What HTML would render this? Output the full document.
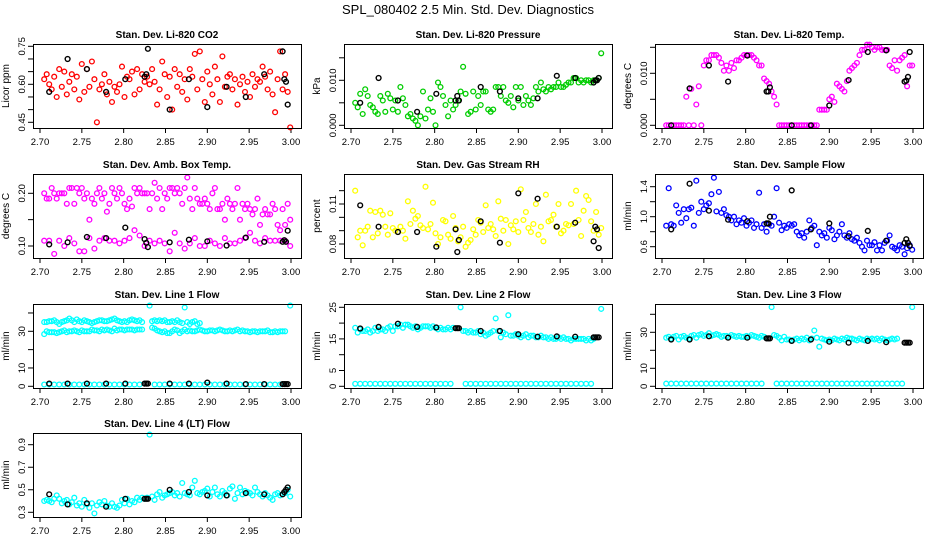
<!DOCTYPE html>
<html><head><meta charset="utf-8"><style>
html,body{margin:0;padding:0;background:#fff;}
svg{display:block;font-family:"Liberation Sans",Arial,sans-serif;}
</style></head><body>
<svg id="chart" width="936" height="540" viewBox="0 0 936 540" xmlns="http://www.w3.org/2000/svg">
<rect width="936" height="540" fill="#fff"/>
<text x="468" y="14" text-anchor="middle" font-size="13">SPL_080402  2.5 Min. Std. Dev. Diagnostics</text>
</svg>
<script>
const times = [2.705,2.708,2.711,2.714,2.717,2.720,2.723,2.726,2.729,2.732,2.735,2.738,2.741,2.744,2.747,2.750,2.753,2.756,2.759,2.762,2.765,2.768,2.771,2.774,2.777,2.780,2.783,2.786,2.789,2.792,2.795,2.798,2.801,2.804,2.807,2.810,2.813,2.816,2.819,2.822,2.825,2.828,2.831,2.834,2.837,2.840,2.843,2.846,2.849,2.852,2.855,2.858,2.861,2.864,2.867,2.870,2.873,2.876,2.879,2.882,2.885,2.888,2.891,2.894,2.897,2.900,2.903,2.906,2.909,2.912,2.915,2.918,2.921,2.924,2.927,2.930,2.933,2.936,2.939,2.942,2.945,2.948,2.951,2.954,2.957,2.960,2.963,2.966,2.969,2.972,2.975,2.978,2.981,2.984,2.987,2.990,2.993,2.996,2.999];
const timesHalf = [2.705,2.711,2.717,2.723,2.729,2.735,2.741,2.747,2.753,2.759,2.765,2.771,2.777,2.783,2.789,2.795,2.801,2.807,2.813,2.819,2.825,2.831,2.837,2.843,2.849,2.855,2.861,2.867,2.873,2.879,2.885,2.891,2.897,2.903,2.909,2.915,2.921,2.927,2.933,2.939,2.945,2.951,2.957,2.963,2.969,2.975,2.981,2.987,2.993,2.999];
const calTimes = [2.711,2.733,2.756,2.779,2.802,2.825,2.827,2.829,2.855,2.878,2.900,2.923,2.946,2.968,2.990,2.992,2.994,2.996];
const xTicks = [2.70,2.75,2.80,2.85,2.90,2.95,3.00];
const xTickLabels = ["2.70","2.75","2.80","2.85","2.90","2.95","3.00"];

const co2Vals = [0.62,0.64,0.60,0.58,0.63,0.55,0.66,0.59,0.65,0.56,0.61,0.64,0.58,0.63,0.54,0.68,0.57,0.66,0.59,0.69,0.62,0.45,0.58,0.60,0.64,0.56,0.61,0.53,0.59,0.57,0.60,0.67,0.55,0.63,0.62,0.65,0.56,0.66,0.58,0.64,0.61,0.63,0.60,0.66,0.61,0.52,0.58,0.69,0.64,0.55,0.63,0.50,0.66,0.59,0.64,0.57,0.62,0.54,0.66,0.63,0.72,0.58,0.73,0.62,0.53,0.65,0.60,0.56,0.67,0.62,0.53,0.71,0.59,0.63,0.64,0.58,0.62,0.52,0.60,0.63,0.57,0.61,0.55,0.64,0.59,0.62,0.61,0.67,0.63,0.58,0.65,0.56,0.49,0.62,0.73,0.58,0.64,0.57,0.43];
const co2Cal = [0.57,0.70,0.66,0.57,0.62,0.63,0.64,0.74,0.50,0.62,0.51,0.59,0.55,0.64,0.73,0.62,0.61,0.52];
const presVals = [0.005,0.004,0.007,0.0025,0.008,0.0065,0.0045,0.004,0.003,0.0025,0.0065,0.0055,0.003,0.007,0.006,0.0035,0.0055,0.003,0.0085,0.006,0.0045,0.002,0.0025,0.0015,0.001,0.0,0.002,0.0075,0.0015,0.0035,0.006,0.003,0.0,0.0095,0.0085,0.0065,0.0045,0.002,0.0055,0.0035,0.0045,0.0055,0.0075,0.013,0.007,0.0025,0.003,0.0075,0.0035,0.0065,0.0045,0.0075,0.0075,0.0035,0.003,0.0035,0.0085,0.0085,0.0065,0.0085,0.0055,0.005,0.0065,0.004,0.0085,0.0055,0.0085,0.0045,0.0065,0.0055,0.0045,0.006,0.0085,0.0075,0.0095,0.008,0.0075,0.0085,0.008,0.0085,0.0085,0.0095,0.0085,0.0085,0.009,0.0095,0.0095,0.0105,0.0105,0.0095,0.01,0.0095,0.01,0.01,0.0095,0.01,0.01,0.0105,0.016];
const presCal = [0.005,0.0105,0.0055,0.003,0.007,0.0055,0.0065,0.0055,0.0085,0.0075,0.006,0.006,0.011,0.0105,0.0095,0.01,0.01,0.0105];
const tempVals = [0,0,0,0,0,0,0,0,0.0055,0,0.007,0,0.004,0.0075,0,0.0115,0.0125,0.0125,0.0135,0.0135,0.0135,0.013,0.012,0.0105,0.0115,0.0105,0.012,0.011,0.0125,0.0125,0.013,0.0135,0.0135,0.0135,0.0135,0.013,0.0125,0.0115,0.0115,0.009,0.0085,0.008,0.0065,0.0055,0.004,0,0,0,0,0,0,0,0,0,0,0,0,0,0,0,0,0.003,0.003,0.003,0.003,0.005,0.0055,0.0045,0.008,0.0075,0.007,0.0065,0.0085,0.0105,0.011,0.0115,0.012,0.0135,0.0145,0.0145,0.0155,0.0155,0.015,0.0145,0.015,0.015,0.0145,0.0145,0.0145,0.0115,0.011,0.0125,0.0105,0.0125,0.013,0.0135,0.0075,0.0115,0.0115];
const tempCal = [0,0.0071,0.0115,0.0084,0.0134,0.0065,0.0065,0.0073,0,0,0.0038,0.0087,0.0141,0.0144,0.0084,0.0086,0.0093,0.0141];
const ambUpper = [0.20,0.19,0.19,0.21,0.20,0.19,0.20,0.20,0.20,0.18,0.21,0.21,0.18,0.21,0.20,0.21,0.19,0.20,0.15,0.19,0.18,0.20,0.21,0.19,0.20,0.165,0.18,0.21,0.20,0.19,0.21,0.20,0.18,0.17,0.19,0.175,0.21,0.20,0.21,0.20,0.20,0.20,0.17,0.20,0.22,0.19,0.21,0.17,0.20,0.19,0.21,0.21,0.20,0.21,0.20,0.18,0.21,0.23,0.19,0.17,0.21,0.19,0.18,0.18,0.19,0.18,0.17,0.20,0.21,0.17,0.17,0.18,0.15,0.19,0.18,0.17,0.18,0.21,0.15,0.18,0.17,0.18,0.17,0.16,0.17,0.19,0.14,0.16,0.17,0.16,0.16,0.18,0.17,0.14,0.13,0.17,0.14,0.18,0.15];
const ambLower = [0.11,0.11,0.085,0.11,0.10,0.115,0.105,0.09,0.09,0.115,0.095,0.11,0.115,0.11,0.11,0.105,0.11,0.115,0.13,0.12,0.10,0.11,0.105,0.11,0.105,0.09,0.125,0.105,0.095,0.105,0.115,0.10,0.10,0.11,0.105,0.10,0.115,0.105,0.105,0.11,0.115,0.125,0.11,0.105,0.115,0.11,0.11,0.11,0.11,0.10];
const ambCal = [0.103,0.107,0.117,0.115,0.135,0.113,0.106,0.098,0.107,0.112,0.109,0.101,0.116,0.108,0.108,0.111,0.108,0.129];
const rhVals = [0.12,0.085,0.09,0.079,0.09,0.093,0.105,0.085,0.104,0.088,0.105,0.102,0.093,0.087,0.103,0.092,0.09,0.089,0.093,0.09,0.084,0.112,0.095,0.105,0.099,0.101,0.094,0.092,0.123,0.091,0.095,0.111,0.088,0.08,0.085,0.098,0.097,0.087,0.084,0.101,0.092,0.082,0.085,0.093,0.078,0.081,0.083,0.091,0.087,0.098,0.096,0.089,0.109,0.092,0.095,0.091,0.086,0.112,0.099,0.09,0.098,0.08,0.094,0.091,0.097,0.089,0.121,0.098,0.104,0.092,0.089,0.095,0.11,0.087,0.093,0.082,0.117,0.097,0.098,0.102,0.093,0.11,0.088,0.09,0.095,0.094,0.11,0.095,0.12,0.098,0.086,0.105,0.116,0.113,0.097,0.09,0.104,0.087,0.092];
const rhCal = [0.109,0.093,0.089,0.089,0.078,0.091,0.074,0.083,0.097,0.081,0.118,0.114,0.093,0.096,0.082,0.093,0.091,0.077];
const flowVals = [0.88,1.38,0.9,0.88,1.15,1.05,0.92,1.1,0.98,1.1,1.12,0.88,1.48,1.05,1.2,1.1,1.15,1.18,1.3,1.52,1.07,1.33,1.05,1.1,1.02,1.0,0.95,1.0,0.9,0.95,0.92,0.98,0.88,0.92,0.95,0.85,0.9,1.32,0.85,0.9,0.8,0.9,0.88,1.0,1.38,0.92,0.82,0.88,0.85,0.9,0.88,0.9,0.8,0.75,0.78,0.72,0.8,0.95,0.85,0.88,0.62,0.8,0.75,0.78,0.72,0.85,0.82,0.7,0.75,0.8,0.9,0.75,0.72,0.78,0.7,0.68,0.72,0.65,0.6,0.55,0.68,0.62,0.62,0.66,0.55,0.62,0.55,0.65,0.68,0.75,0.6,0.58,0.55,0.62,0.6,0.5,0.58,0.62,0.56];
const flowCal = [0.83,1.44,1.08,0.96,0.94,0.91,0.91,1.0,1.35,0.83,0.91,0.74,0.81,0.68,0.65,0.7,0.65,0.61];
const line1A = [35,35,35.5,35.5,36,35,34,35,35.5,36,37,36,35,36.5,35.5,35,36,35.5,35,34.5,35,35.5,36,36,35.5,35.5,36,36.5,37,36,35.5,35,35.5,35,36,36.5,36,35.5,36,35,null,null,null,35.5,36,35.5,36,35.5,36,35,35,35.5,35,36,35,34.5,43,35,34,35,35.5,34,34.5];
const line1B = [28.5,30,29.5,29.5,29.5,29,29.5,30,30.5,29.5,30,30,30.5,30,29.5,30.5,30,30,30,31,30.5,30.5,30,31,30.5,31,30.5,30,31.5,30.5,31,31,30.5,31,31,31,30.5,31,31,31,null,null,44,32,31.5,30.5,30,29.5,30,29,29,30,31,30.5,29,30,31,30,30.5,30,30,30.5,31,30.5,30,30,30.5,30.5,30,30.5,31,30.5,30,30,30.5,30,30.5,31,30,30.5,30,30,29.5,30,30,29.5,30,30,30,30.5,29.5,29.5,30,29.5,30,30,30,null,44];
const line1Low = [1,1,1,1,1,1,1,1,1,1,1,1,1,1,1,1,1,1,1,1,null,null,1,1,1,1,1,1,1,1,1,1,1,1,1,1,1,1,1,1,1,1,1,1,1,1,1,1,null,null];
const line1Cal = [1.5,1.5,1.5,1.5,1.5,1.5,1.5,1.5,1.5,1.5,2,1.5,1.2,1.2,1.2,1.2,1.2,1.2];
const line2Vals = [18.5,17,18,17.5,17.5,18,17,17.5,18.5,17.5,18,18,17.5,18.5,19,17.5,19,19,19.5,18.5,19.5,19.5,19,18.5,19,18,18.5,19,19,19,18.5,19,18.5,18,18.5,18,18,18.5,18,18.5,null,null,25,17.5,17.5,17,17.5,17,17,17.5,16.5,17,16,16.5,17,17.5,21.5,17.5,15.5,17,16.5,22.5,16,16,16.5,16,15.5,16,16.5,15.5,16,16,15.5,15.5,16,15.5,15.5,15,15.5,15,15,15.5,15,15.5,15,15,14.5,15,15,15,15,15,14.5,15,14.5,15,null,null,24.5];
const line2Low = [0.8,0.8,0.8,0.8,0.8,0.8,0.8,0.8,0.8,0.8,0.8,0.8,0.8,0.8,0.8,0.8,0.8,0.8,0.8,0.8,null,null,0.8,0.8,0.8,0.8,0.8,0.8,0.8,0.8,0.8,0.8,0.8,0.8,0.8,0.8,0.8,0.8,0.8,0.8,0.8,0.8,0.8,0.8,0.8,0.8,0.8,0.8,null,null];
const line2Cal = [18.3,18.8,19.8,18.8,18.6,18.4,18.4,18.4,17.5,17.5,16.5,15.7,15.8,15.7,15.5,15.5,15.5,15.5];
const line3Vals = [27,27.5,26.5,27.5,28,26,27.5,28,27,26.5,28,28.5,27,28.5,29,28,28.5,29.5,28,28.5,29,28.5,27.5,28,28,27.5,28.5,28,27.5,28,27.5,27.5,28,27.5,28.5,28,27.5,27,28,27.5,null,null,44,28.5,28,27,25.5,27.5,26,26,25.5,26,26.5,25.5,26.5,26,27,25.5,26.5,31,27,22,26.5,26,25.5,26,25.5,26.5,26,25.5,26.5,26,27,26.5,26.5,26,25.5,26.5,26,25.5,26.5,26,26.5,26,26.5,25.5,26.5,26,25.5,26,26.5,26,26.5,null,null,null,null,null,44];
const line3Low = [1.5,1.5,1.5,1.5,1.5,1.5,1.5,1.5,1.5,1.5,1.5,1.5,1.5,1.5,1.5,1.5,1.5,1.5,1.5,1.5,null,null,1.5,1.5,1.5,1.5,1.5,1.5,1.5,1.5,1.5,1.5,1.5,1.5,1.5,1.5,1.5,1.5,1.5,1.5,1.5,1.5,1.5,1.5,1.5,1.5,1.5,1.5,null,null];
const line3Cal = [26,26,27.8,27,27,26.6,26.6,26.6,25.2,26,24.8,24.2,25.2,24.5,24.2,24.2,24.2,24.2];
const line4Vals = [0.40,0.41,0.40,0.39,0.42,0.45,0.42,0.38,0.40,0.41,0.37,0.39,0.43,0.36,0.38,0.35,0.41,0.37,0.34,0.38,0.29,0.36,0.39,0.37,0.40,0.36,0.35,0.38,0.35,0.34,0.36,0.41,0.38,0.42,0.37,0.40,0.39,0.43,0.41,0.43,0.42,0.43,0.99,0.44,0.41,0.46,0.48,0.43,0.45,0.46,0.47,0.48,0.45,0.47,0.44,0.56,0.47,0.46,0.45,0.52,0.58,0.47,0.46,0.48,0.49,0.51,0.44,0.48,0.52,0.46,0.44,0.49,0.47,0.45,0.51,0.53,0.42,0.47,0.52,0.46,0.49,0.48,0.47,0.45,0.52,0.48,0.46,0.44,0.47,0.45,0.43,0.41,0.46,0.47,0.45,0.46,0.47,0.50,0.44];
const line4Cal = [0.46,0.37,0.38,0.35,0.42,0.42,0.42,0.42,0.50,0.48,0.45,0.45,0.47,0.46,0.46,0.48,0.50,0.52];

const NS = "http://www.w3.org/2000/svg";
const svg = document.getElementById('chart');
const colLeft = [33, 344, 655], rowTop = [44, 174, 304, 433], PW = 268, PH = 84;

function mk(tag, attrs, parent) {
  const e = document.createElementNS(NS, tag);
  for (const k in attrs) e.setAttribute(k, attrs[k]);
  (parent || svg).appendChild(e);
  return e;
}

const panels = [
  {key:'co2', title:'Stan. Dev. Li-820 CO2', ylab:'Licor ppm', color:'#ff0000', r:0, c:0, cal:[0.45,78.3,0.75,2.3], ticks:[0.45,0.5,0.55,0.6,0.65,0.7,0.75], labels:{0.45:'0.45',0.6:'0.60',0.75:'0.75'},
   series:[[times, co2Vals]], calVals: co2Cal},
  {key:'pressure', title:'Stan. Dev. Li-820 Pressure', ylab:'kPa', color:'#00cd00', r:0, c:1, cal:[0,81.3,0.01,36.3], ticks:[0,0.005,0.01,0.015], labels:{0:'0.000',0.01:'0.010'},
   series:[[times, presVals]], calVals: presCal},
  {key:'temp', title:'Stan. Dev. Li-820 Temp.', ylab:'degrees C', color:'#ff00ff', r:0, c:2, cal:[0,81.3,0.01,29.3], ticks:[0,0.005,0.01,0.015], labels:{0:'0.000',0.01:'0.010'},
   series:[[times, tempVals]], calVals: tempCal},
  {key:'amb-temp', title:'Stan. Dev. Amb. Box Temp.', ylab:'degrees C', color:'#ff00ff', r:1, c:0, cal:[0.1,72,0.2,19.3], ticks:[0.1,0.15,0.2], labels:{0.1:'0.10',0.2:'0.20'},
   series:[[times, ambUpper],[timesHalf, ambLower]], calVals: ambCal},
  {key:'rh', title:'Stan. Dev. Gas Stream RH', ylab:'percent', color:'#ffff00', r:1, c:1, cal:[0.08,70,0.11,30], ticks:[0.08,0.09,0.1,0.11,0.12], labels:{0.08:'0.08',0.11:'0.11'},
   series:[[times, rhVals]], calVals: rhCal},
  {key:'sample-flow', title:'Stan. Dev. Sample Flow', ylab:'ml/min', color:'#0000ff', r:1, c:2, cal:[0.6,72.7,1.4,12.7], ticks:[0.6,0.8,1.0,1.2,1.4], labels:{0.6:'0.6',1:'1.0',1.4:'1.4'},
   series:[[times, flowVals]], calVals: flowCal},
  {key:'line1', title:'Stan. Dev. Line 1 Flow', ylab:'ml/min', color:'#00ffff', r:2, c:0, cal:[0,82.3,30,27.3], ticks:[0,10,20,30,40], labels:{0:'0',10:'10',30:'30'},
   series:[[times, line1A],[times, line1B],[timesHalf, line1Low]], calVals: line1Cal},
  {key:'line2', title:'Stan. Dev. Line 2 Flow', ylab:'ml/min', color:'#00ffff', r:2, c:1, cal:[0,82.3,25,3.3], ticks:[0,5,10,15,20,25], labels:{0:'0',5:'5',15:'15',25:'25'},
   series:[[times, line2Vals],[timesHalf, line2Low]], calVals: line2Cal},
  {key:'line3', title:'Stan. Dev. Line 3 Flow', ylab:'ml/min', color:'#00ffff', r:2, c:2, cal:[0,82.3,30,28.3], ticks:[0,10,20,30,40], labels:{0:'0',10:'10',30:'30'},
   series:[[times, line3Vals],[timesHalf, line3Low]], calVals: line3Cal},
  {key:'line4', title:'Stan. Dev. Line 4 (LT) Flow', ylab:'ml/min', color:'#00ffff', r:3, c:0, cal:[0.3,79.3,0.9,11.7], ticks:[0.3,0.5,0.7,0.9], labels:{0.3:'0.3',0.5:'0.5',0.7:'0.7',0.9:'0.9'},
   series:[[times, line4Vals]], calVals: line4Cal}
];

panels.forEach(p => {
  const L = colLeft[p.c], T = rowTop[p.r];
  const g = mk('g', {});
  
  
  const xs = v => L + 7 + (v - 2.70) / 0.30 * (PW - 17);
  const ys = v => T + p.cal[1] + (v - p.cal[0]) / (p.cal[2] - p.cal[0]) * (p.cal[3] - p.cal[1]);

  const title = mk('text', {x: L + PW/2, y: T - 6, 'text-anchor':'middle', 'font-size':'10', 'font-weight':'bold'}, g);
  title.textContent = p.title;
  
  

  // x axis
  const xa = mk('g', {}, g);
  
  
  xTicks.forEach((t, i) => {
    const x = xs(t);
    mk('line', {x1:x, x2:x, y1:T+PH, y2:T+PH+5, stroke:'#000', 'stroke-width':1}, xa);
    const tl = mk('text', {x:x, y:T+PH+17, 'text-anchor':'middle', 'font-size':'9.5'}, xa);
    tl.textContent = xTickLabels[i];
  });
  mk('line', {x1:xs(xTicks[0]), x2:xs(xTicks[xTicks.length-1]), y1:T+PH+0.5, y2:T+PH+0.5, stroke:'#000'}, xa);

  // y axis
  const ya = mk('g', {}, g);
  
  
  p.ticks.forEach(t => {
    const y = ys(t);
    mk('line', {x1:L-5, x2:L, y1:y, y2:y, stroke:'#000'}, ya);
    const key = Object.keys(p.labels).find(k => Math.abs(parseFloat(k) - t) < 1e-9);
    if (key !== undefined) {
      const tl = mk('text', {x:L-8, y:y, 'text-anchor':'middle', 'font-size':'9.5', transform:`rotate(-90 ${L-8} ${y})`}, ya);
      tl.textContent = p.labels[key];
    }
  });
  const yl = mk('text', {x:L-24, y:T+PH/2, 'text-anchor':'middle', 'font-size':'10', transform:`rotate(-90 ${L-24} ${T+PH/2})`}, g);
  yl.textContent = p.ylab;
  
  

  // points
  const pts = mk('g', {fill:'none', stroke:p.color, 'stroke-width':'1.3'}, g);
  
  
  p.series.forEach(([tx, vals]) => {
    const n = Math.min(tx.length, vals.length);
    for (let i = 0; i < n; i++) {
      if (vals[i] === null) continue;
      const c = mk('circle', {cx:xs(tx[i]).toFixed(1), cy:ys(vals[i]).toFixed(1), r:2.4}, pts);
      
      
    }
  });
  const cg = mk('g', {fill:'none', stroke:'#000', 'stroke-width':'1.4'}, g);
  
  
  const n = Math.min(calTimes.length, p.calVals.length);
  for (let i = 0; i < n; i++) {
    const c = mk('circle', {cx:xs(calTimes[i]).toFixed(1), cy:ys(p.calVals[i]).toFixed(1), r:2.4}, cg);
    
    
  }

  const box = mk('rect', {x:L+0.5, y:T+0.5, width:PW, height:PH, fill:'none', stroke:'#000', 'stroke-width':1}, g);
  
  
});
</script>
</body></html>
